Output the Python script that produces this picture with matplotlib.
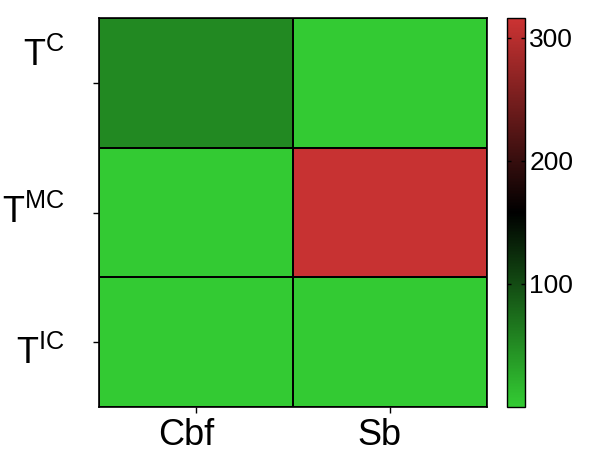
import numpy as np
import matplotlib.pyplot as plt
import matplotlib.transforms as mtransforms
from matplotlib.colors import LinearSegmentedColormap

rows = [r'T$^{\mathrm{C}}$', r'T$^{\mathrm{MC}}$', r'T$^{\mathrm{IC}}$']
cols = ['Cbf', 'Sb']
cbf_vals = [52, 2, 2]
sb_vals = [2, 312, 2]
vmin, vmax = 0, 316
cbar_ticks = [100, 200, 300]

plt.rcParams['font.family'] = ['Liberation Sans', 'DejaVu Sans']
plt.rcParams['mathtext.fontset'] = 'custom'
plt.rcParams['mathtext.rm'] = 'Liberation Sans'

data = np.array([cbf_vals, sb_vals]).T

cmap = LinearSegmentedColormap.from_list(
    'gkr', [(0.20, 0.80, 0.20), (0.0, 0.0, 0.0), (0.80, 0.20, 0.20)])

fig = plt.figure(figsize=(5.9, 4.57), dpi=100)
ax = fig.add_axes([0.168, 0.109, 0.657, 0.852])
cax = fig.add_axes([0.859, 0.109, 0.031, 0.852])

mesh = ax.pcolormesh(data, cmap=cmap, vmin=vmin, vmax=vmax,
                     edgecolors='black', linewidth=1.2)
ax.set_xlim(0, len(cols))
ax.set_ylim(len(rows), 0)

ax.set_xticks(np.arange(len(cols)) + 0.5)
ax.set_xticklabels(cols, fontsize=26)
ax.set_yticks(np.arange(len(rows)) + 0.5)
ax.set_yticklabels(rows, fontsize=26)
ax.tick_params(axis='x', length=4, width=1, pad=4)
ax.tick_params(axis='y', length=4, width=1, pad=21)

# labels in the original sit slightly off their ticks
y_off = [31, 4, -8]
for lab, dy in zip(ax.get_yticklabels(), y_off):
    lab.set_transform(lab.get_transform() +
                      mtransforms.ScaledTranslation(0, dy / 100, fig.dpi_scale_trans))
for lab in ax.get_xticklabels():
    lab.set_transform(lab.get_transform() +
                      mtransforms.ScaledTranslation(-10 / 100, 0, fig.dpi_scale_trans))

for sp in ax.spines.values():
    sp.set_linewidth(1.2)

cb = fig.colorbar(mesh, cax=cax, ticks=cbar_ticks)
cb.outline.set_linewidth(1)
cax.tick_params(labelsize=19, direction='in', length=3, width=1,
                left=True, right=True, pad=3)

fig.savefig('out.png', dpi=100)
